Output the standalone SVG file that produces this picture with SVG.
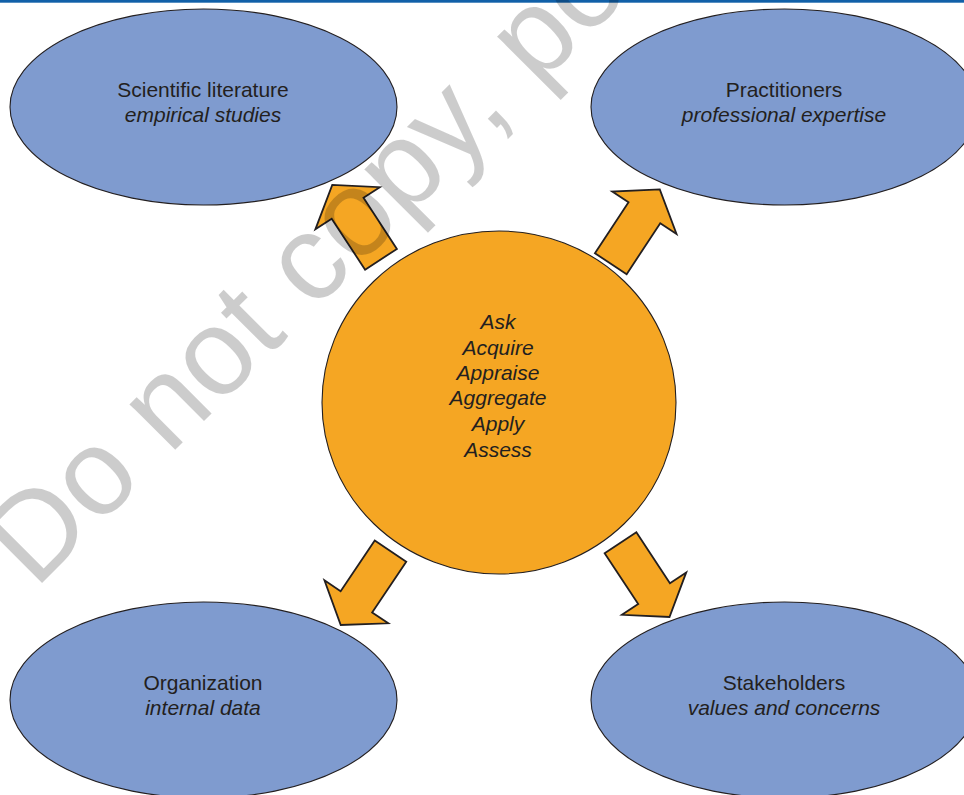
<svg xmlns="http://www.w3.org/2000/svg" width="964" height="795" viewBox="0 0 964 795">
  <style>
    .node { fill: #7f9bcf; stroke: #231f20; stroke-width: 1.1; }
    .hub { fill: #f5a623; stroke: #231f20; stroke-width: 1.1; }
    .arrow { fill: #f5a623; stroke: #231f20; stroke-width: 1.8; stroke-linejoin: miter; }
    text { font-family: "Liberation Sans", Arial, Helvetica, sans-serif; font-size: 21px; fill: #231f20; text-anchor: middle; }
    .it { font-style: italic; }
    .wm { font-family: "Liberation Sans", Arial, Helvetica, sans-serif; font-size: 122px; fill: #000000; fill-opacity: 0.2; text-anchor: start; }
  </style>
  <defs>
    <path id="blockArrow" d="M-19,0 L19,0 L19,-61 L38.5,-61 L0,-89 L-38.5,-61 L-19,-61 Z"/>
  </defs>
  <rect x="0" y="0" width="964" height="795" fill="#ffffff"/>
  <rect x="0" y="0" width="964" height="2.7" fill="#1160a8"/>

  <g id="node-scientific-literature">
    <ellipse class="node" cx="203.5" cy="107" rx="193.5" ry="98"/>
    <text x="203" y="97">Scientific literature</text>
    <text class="it" x="203" y="122">empirical studies</text>
  </g>
  <g id="node-practitioners">
    <ellipse class="node" cx="784.5" cy="107" rx="193.5" ry="98"/>
    <text x="784" y="97">Practitioners</text>
    <text class="it" x="784" y="122">professional expertise</text>
  </g>
  <g id="node-organization">
    <ellipse class="node" cx="203.5" cy="700" rx="193.5" ry="98"/>
    <text x="203" y="690">Organization</text>
    <text class="it" x="203" y="715">internal data</text>
  </g>
  <g id="node-stakeholders">
    <ellipse class="node" cx="784.5" cy="700" rx="193.5" ry="98"/>
    <text x="784" y="690">Stakeholders</text>
    <text class="it" x="784" y="715">values and concerns</text>
  </g>

  <g id="connectors">
    <use href="#blockArrow" class="arrow" transform="translate(381,259.3) rotate(-33.2)"/>
    <use href="#blockArrow" class="arrow" transform="translate(610.8,263.7) rotate(33.4)"/>
    <use href="#blockArrow" class="arrow" transform="translate(390.5,551.2) rotate(-146)"/>
    <use href="#blockArrow" class="arrow" transform="translate(620.5,542.7) rotate(146.6)"/>
  </g>

  <g id="node-center">
    <ellipse class="hub" cx="499" cy="402.5" rx="177" ry="171.5"/>
    <text class="it" x="498" y="329">Ask</text>
    <text class="it" x="498" y="355">Acquire</text>
    <text class="it" x="498" y="380">Appraise</text>
    <text class="it" x="498" y="405">Aggregate</text>
    <text class="it" x="498" y="431">Apply</text>
    <text class="it" x="498" y="457">Assess</text>
  </g>

  <text class="wm" transform="translate(35,590) rotate(-45)" x="0" y="0">Do not copy, post, or distribute</text>
</svg>
